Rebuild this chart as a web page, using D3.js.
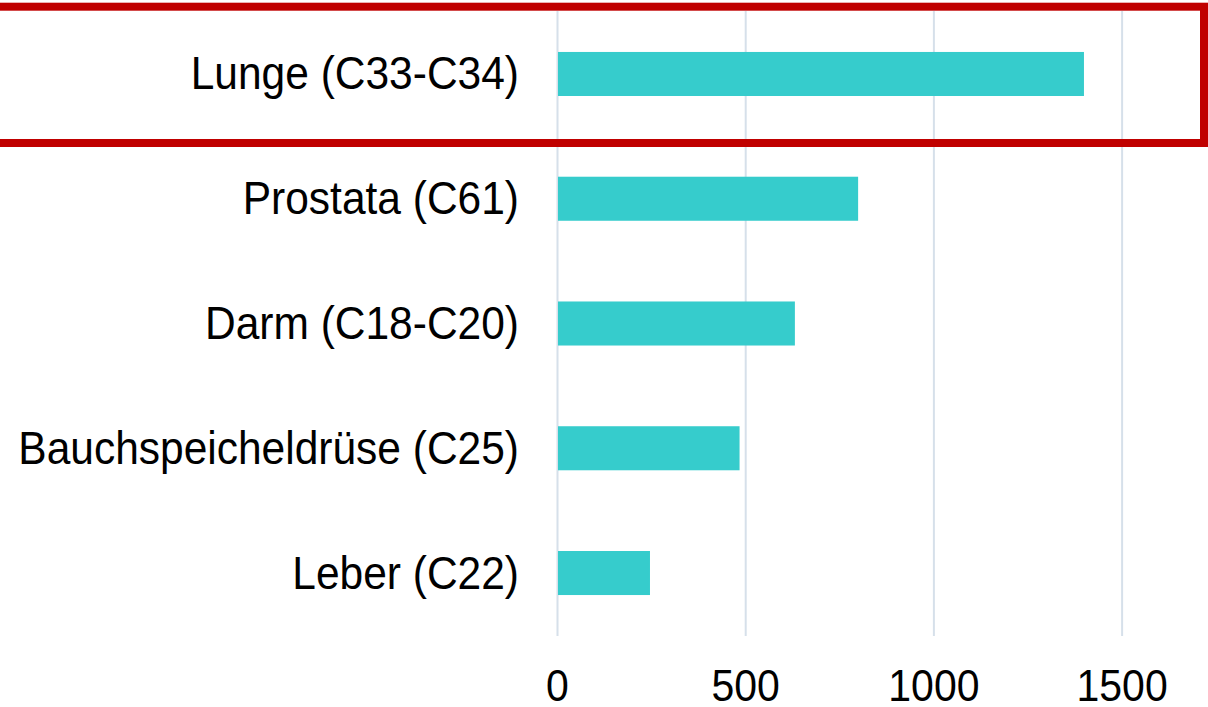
<!DOCTYPE html>
<html>
<head>
<meta charset="utf-8">
<script src="https://cdn.jsdelivr.net/npm/d3@7"></script>
<style>
  html, body { margin: 0; padding: 0; background: #fff; }
  svg { display: block; font-family: "Liberation Sans", Arial, sans-serif; }
</style>
</head>
<body>
<svg id="chart" width="1208" height="707"></svg>
<script>
const categories = ["Lunge (C33-C34)", "Prostata (C61)", "Darm (C18-C20)", "Bauchspeicheldrüse (C25)", "Leber (C22)"];
const values = [1400, 800, 632, 485, 247];
const tickValues = [0, 500, 1000, 1500];
const highlighted = ["Lunge (C33-C34)"];

const svg = d3.select("#chart");
const plotTop = 11, plotBottom = 636;

const x = d3.scaleLinear().domain([0, 1500]).range([557, 1121.6]);
const y = d3.scaleBand().domain(categories).range([11.6, 635.4]).paddingInner(0.647).paddingOuter(0.3235);

// gridlines
const grid = svg.append("g")
  .attr("transform", `translate(0,${plotBottom})`)
  .call(d3.axisBottom(x).tickValues(tickValues).tickSize(-(plotBottom - plotTop)).tickFormat(""));
grid.select(".domain").remove();
grid.selectAll(".tick line").attr("stroke", "#d6e0ea").attr("stroke-width", 2);

// bars
svg.append("g").selectAll("rect")
  .data(categories)
  .join("rect")
  .attr("x", x(0) + 1)
  .attr("y", d => y(d))
  .attr("width", (d, i) => x(values[i]) - x(0) - 1)
  .attr("height", y.bandwidth())
  .attr("fill", "#36cccc");

// category labels
svg.append("g").selectAll("text")
  .data(categories)
  .join("text")
  .attr("transform", d => `translate(519,${y(d) + y.bandwidth() / 2 + 15.5}) scale(1,1.08)`)
  .attr("text-anchor", "end")
  .attr("font-size", 42.5)
  .attr("fill", "#000")
  .text(d => d);

// x tick labels
const xa = svg.append("g")
  .attr("transform", `translate(0,${plotBottom})`)
  .call(d3.axisBottom(x).tickValues(tickValues).tickSize(0).tickFormat(d3.format("d")));
xa.select(".domain").remove();
xa.selectAll(".tick text")
  .attr("y", 0).attr("dy", 0)
  .attr("transform", "translate(0,65) scale(1,1.09)")
  .attr("font-size", 41)
  .attr("font-family", "'Liberation Sans', Arial, sans-serif")
  .attr("fill", "#000");

// highlight box
svg.append("g").selectAll("rect")
  .data(highlighted)
  .join("rect")
  .attr("x", -10)
  .attr("y", 6.7)
  .attr("width", 1214)
  .attr("height", 136.3)
  .attr("fill", "none")
  .attr("stroke", "#c00000")
  .attr("stroke-width", 8);
</script>
</body>
</html>
